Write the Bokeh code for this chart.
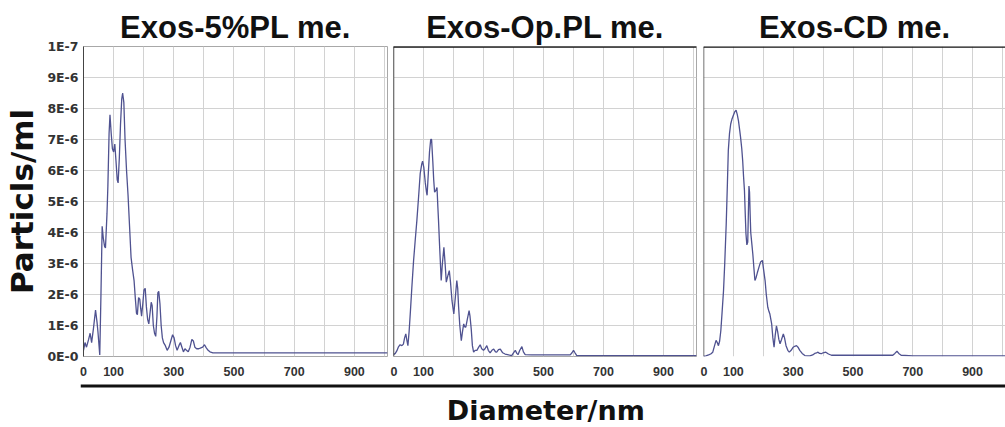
from bokeh.plotting import figure
from bokeh.layouts import row, column
from bokeh.models import Range1d, FixedTicker, Span, Label
from bokeh.embed import file_html
from bokeh.resources import INLINE

# Panel titles
titles = ["Exos-5%PL me.", "Exos-Op.PL me.", "Exos-CD me."]

# Axis ticks
x_tick_values = [0, 100, 300, 500, 700, 900]
y_tick_values = [0, 1, 2, 3, 4, 5, 6, 7, 8, 9, 10]
y_tick_labels = ["0E-0", "1E-6", "2E-6", "3E-6", "4E-6", "5E-6",
                 "6E-6", "7E-6", "8E-6", "9E-6", "1E-7"]

# Size distributions (diameter in nm, concentration in 1E-6 particles/ml)
diam_5pl = [0, 5, 10, 17, 22, 27, 33, 40, 45, 48, 52, 54, 58, 62, 66, 70, 73,
            78, 81, 85, 88, 92, 96, 100, 104, 108, 112, 115, 119, 123, 127,
            130, 134, 138, 143, 148, 153, 158, 163, 168, 172, 176, 179, 183,
            187, 190, 193, 197, 201, 205, 209, 213, 217, 221, 225, 228, 232,
            236, 240, 244, 247, 250, 254, 258, 262, 266, 272, 278, 284, 290,
            296, 301, 306, 311, 317, 322, 327, 332, 337, 342, 348, 354, 360,
            365, 370, 376, 383, 390, 396, 402, 408, 414, 420, 430, 450, 500,
            600, 700, 800, 900, 1010]
conc_5pl = [0.2, 0.45, 0.3, 0.55, 0.75, 0.45, 0.9, 1.5, 1.1, 0.8, 0.3, 0.05,
            2.0, 4.2, 3.8, 3.55, 3.5, 4.6, 5.5, 7.2, 7.8, 7.2, 6.7, 6.6, 6.85,
            6.3, 5.7, 5.6, 6.4, 7.5, 8.3, 8.5, 8.2, 7.0, 6.0, 5.2, 4.2, 3.2,
            2.8, 2.45, 1.9, 1.4, 1.35, 1.9, 1.85, 1.55, 1.3, 1.7, 2.15, 2.2,
            1.6, 1.2, 1.05, 1.4, 1.75, 1.65, 1.0, 0.75, 0.65, 1.3, 2.05, 2.1,
            1.7, 1.0, 0.6, 0.45, 0.35, 0.2, 0.3, 0.5, 0.7, 0.6, 0.35, 0.2,
            0.35, 0.45, 0.3, 0.15, 0.25, 0.2, 0.15, 0.3, 0.55, 0.5, 0.3, 0.25,
            0.25, 0.28, 0.3, 0.38, 0.28, 0.2, 0.15, 0.12, 0.12, 0.12, 0.12,
            0.12, 0.12, 0.12, 0.12]

diam_oppl = [0, 6, 11, 16, 22, 28, 33, 37, 41, 45, 48, 52, 56, 61, 67, 72, 78,
             84, 89, 94, 97, 101, 106, 110, 112, 116, 120, 124, 127, 131, 134,
             137, 141, 145, 148, 150, 154, 159, 163, 168, 172, 176, 181, 186,
             190, 195, 201, 206, 211, 214, 217, 221, 226, 230, 234, 238, 241,
             246, 252, 255, 259, 263, 267, 272, 278, 284, 289, 294, 300, 305,
             311, 316, 322, 328, 334, 340, 344, 350, 356, 364, 372, 384, 394,
             400, 406, 411, 415, 421, 428, 433, 439, 460, 500, 550, 589, 595,
             600, 605, 611, 650, 800, 1010]
conc_oppl = [0.06, 0.1, 0.18, 0.3, 0.38, 0.35, 0.4, 0.6, 0.73, 0.5, 0.35, 0.8,
             1.4, 2.2, 3.1, 3.7, 4.4, 5.2, 5.9, 6.2, 6.3, 6.1, 5.6, 5.3, 5.2,
             5.9, 6.6, 7.0, 7.0, 6.3, 5.7, 5.3, 5.35, 5.45, 4.8, 4.4, 3.5,
             2.45, 3.0, 3.52, 3.0, 2.4, 2.6, 2.77, 2.4, 1.8, 1.37, 1.9, 2.45,
             2.2, 1.6, 1.0, 0.51, 0.8, 1.05, 0.95, 0.95, 1.2, 1.48, 1.3, 0.9,
             0.35, 0.14, 0.2, 0.2, 0.3, 0.38, 0.25, 0.2, 0.25, 0.35, 0.2, 0.12,
             0.2, 0.24, 0.15, 0.14, 0.22, 0.24, 0.12, 0.08, 0.05, 0.03, 0.12,
             0.2, 0.1, 0.06, 0.2, 0.32, 0.15, 0.06, 0.05, 0.05, 0.05, 0.05,
             0.12, 0.2, 0.12, 0.03, 0.03, 0.03, 0.03]

diam_cd = [0, 8, 17, 24, 31, 37, 42, 46, 50, 54, 58, 62, 67, 71, 76, 80, 83,
           87, 91, 95, 100, 105, 109, 113, 117, 121, 124, 128, 131, 134, 137,
           140, 142, 145, 148, 150, 152, 154, 156, 158, 162, 165, 169, 172,
           176, 180, 186, 191, 197, 201, 206, 210, 215, 219, 222, 228, 232,
           236, 240, 244, 248, 252, 256, 261, 267, 271, 276, 282, 287, 293,
           300, 305, 311, 316, 322, 330, 339, 348, 356, 365, 372, 378, 383,
           388, 394, 400, 409, 418, 428, 450, 500, 550, 600, 633, 640, 647,
           653, 661, 700, 800, 1010]
conc_cd = [0.0, 0.02, 0.05, 0.08, 0.14, 0.35, 0.52, 0.45, 0.35, 0.5, 0.84,
           1.4, 2.13, 3.0, 4.28, 5.6, 6.65, 7.2, 7.5, 7.65, 7.78, 7.9, 7.95,
           7.8, 7.6, 7.3, 7.07, 6.7, 6.32, 5.8, 5.35, 4.5, 3.96, 3.6, 3.69,
           4.6, 5.5, 5.3, 4.6, 4.0, 3.6, 3.3, 2.8, 2.45, 2.55, 2.7, 2.9, 3.05,
           3.1, 2.8, 2.45, 2.0, 1.59, 1.45, 1.37, 1.05, 0.6, 0.3, 0.7, 0.99,
           0.8, 0.55, 0.41, 0.55, 0.73, 0.6, 0.35, 0.2, 0.14, 0.2, 0.3, 0.33,
           0.35, 0.3, 0.2, 0.1, 0.03, 0.02, 0.02, 0.05, 0.1, 0.12, 0.14, 0.1,
           0.09, 0.12, 0.14, 0.08, 0.04, 0.04, 0.04, 0.04, 0.04, 0.04, 0.1,
           0.17, 0.1, 0.04, 0.02, 0.02, 0.02]

series = [(diam_5pl, conc_5pl), (diam_oppl, conc_oppl), (diam_cd, conc_cd)]

LINE_COLOR = "#4f5290"
GRID_COLOR = "#d2d2d2"
TICK_COLOR = "#333333"

frame_widths = [304, 303, 302]
left_borders = [83, 3, 3]
right_borders = [3, 4, 0]

panels = []
for i, (title, (xs, ys)) in enumerate(zip(titles, series)):
    p = figure(
        frame_width=frame_widths[i], frame_height=310,
        min_border_left=left_borders[i], min_border_right=right_borders[i],
        min_border_top=46, min_border_bottom=22,
        x_range=Range1d(0, 1010), y_range=Range1d(0, 10),
        toolbar_location=None, output_backend="svg",
        title=title,
    )
    p.title.align = "center"
    p.title.text_font = "Liberation Sans"
    p.title.text_font_style = "bold"
    p.title.text_font_size = "31px"
    p.title.text_color = "#111111"
    p.title.standoff = 4

    p.line(xs, ys, line_color=LINE_COLOR, line_width=1.3)

    # gridlines every 100 nm and every 1E-6 step
    p.xgrid.ticker = FixedTicker(ticks=list(range(0, 1001, 100)))
    p.ygrid.ticker = FixedTicker(ticks=y_tick_values)
    p.xgrid.grid_line_color = GRID_COLOR
    p.ygrid.grid_line_color = GRID_COLOR

    p.xaxis.ticker = FixedTicker(ticks=x_tick_values)
    p.xaxis.axis_line_color = None
    p.xaxis.major_tick_line_color = None
    p.xaxis.minor_tick_line_color = None
    p.xaxis.major_label_standoff = 4
    p.xaxis.major_label_text_font = "Liberation Sans"
    p.xaxis.major_label_text_font_style = "bold"
    p.xaxis.major_label_text_font_size = "12.5px"
    p.xaxis.major_label_text_color = TICK_COLOR

    if i == 0:
        p.yaxis.ticker = FixedTicker(ticks=y_tick_values)
        p.yaxis.major_label_overrides = {v: t for v, t in zip(y_tick_values, y_tick_labels)}
        p.yaxis.axis_line_color = "#444444"
        p.yaxis.major_tick_out = 0
        p.yaxis.major_tick_in = 0
        p.yaxis.minor_tick_line_color = None
        p.yaxis.major_label_standoff = 5
        p.yaxis.major_label_text_font = "DejaVu Sans"
        p.yaxis.major_label_text_font_style = "bold"
        p.yaxis.major_label_text_font_size = "12.5px"
        p.yaxis.major_label_text_color = TICK_COLOR
        p.yaxis.axis_label = "Particls/ml"
        p.yaxis.axis_label_text_font = "DejaVu Sans"
        p.yaxis.axis_label_text_font_style = "bold"
        p.yaxis.axis_label_text_font_size = "31px"
        p.yaxis.axis_label_text_color = "#111111"
        p.yaxis.axis_label_standoff = 4
        p.outline_line_color = "#a8a8a8"
    else:
        p.yaxis.visible = False
        p.add_layout(Span(location=0, dimension="height",
                          line_color="#444444", line_width=1.5))
        p.add_layout(Span(location=10, dimension="width",
                          line_color="#111111", line_width=2.5))
        p.outline_line_color = "#a8a8a8" if i == 1 else None

    panels.append(p)

# Shared x-axis caption with a heavy rule above it
bottom = figure(
    width=1005, height=49, min_border=0, min_border_left=80,
    x_range=Range1d(0, 1), y_range=Range1d(0, 49),
    x_axis_type=None, y_axis_type=None,
    toolbar_location=None, output_backend="svg",
)
bottom.outline_line_color = None
bottom.grid.visible = False
bottom.add_layout(Span(location=41.5, dimension="width",
                       line_color="#111111", line_width=3))
bottom.add_layout(Label(x=0.503, y=17, text="Diameter/nm",
                        text_align="center", text_baseline="middle",
                        text_font="DejaVu Sans", text_font_style="bold",
                        text_font_size="27px", text_color="#111111"))

layout = column(row(*panels, spacing=0), bottom, spacing=0)

open("out.html", "w").write(file_html(layout, INLINE))
